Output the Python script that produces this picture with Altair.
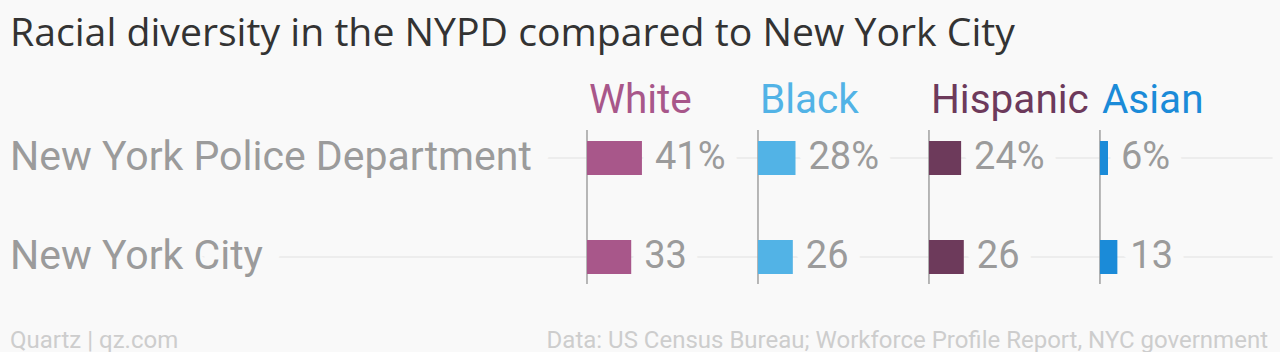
import altair as alt
import pandas as pd

# ---- data ----
title_text = "Racial diversity in the NYPD compared to New York City"
races = ["White", "Black", "Hispanic", "Asian"]
race_colors = ["#a8578a", "#52b3e6", "#6d3a5b", "#1b8bd8"]
groups = ["New York Police Department", "New York City"]
nypd_share = [41, 28, 24, 6]
nyc_share = [33, 26, 26, 13]
group_suffix = ["%", ""]
footer_left = ["Quartz | qz.com"]
footer_right = ["Data: US Census Bureau; Workforce Profile Report, NYC government"]

BG = "#f9f9f9"
GREY = "#9b9b9b"
FONT = "Roboto"
PANEL_STEP = 127.6          # distance between the four panels, in value units
X_DOMAIN = [-430.6, 511.2]  # plot spans label column + four panels
W, H = 1262, 198

records = []
for i, race in enumerate(races):
    for g, vals, suf in zip(groups, [nypd_share, nyc_share], group_suffix):
        records.append({"race": race, "idx": i, "group": g,
                        "value": vals[i], "label": f"{vals[i]}{suf}"})
df = pd.DataFrame(records)
race_df = pd.DataFrame({"race": races, "idx": list(range(len(races)))})
group_df = pd.DataFrame({"group": groups})

xscale = alt.Scale(domain=X_DOMAIN, nice=False, zero=False)
yaxis = alt.Axis(grid=True, bandPosition=0.5, labels=False, ticks=False,
                 domain=False, title=None, gridColor="#e8e8e8", gridWidth=1.5)
yscale = alt.Scale(domain=groups, paddingInner=0.657, paddingOuter=0.3285)
Y = alt.Y("group:N", scale=yscale, axis=yaxis)
color = alt.Color("race:N", scale=alt.Scale(domain=races, range=race_colors), legend=None)

calc = dict(start=f"datum.idx * {PANEL_STEP}", end=f"datum.idx * {PANEL_STEP} + datum.value")

base = alt.Chart(df).transform_calculate(**calc)

row_halo = alt.Chart(group_df).mark_text(
    align="left", baseline="middle", font=FONT, fontSize=41,
    fill=BG, stroke=BG, strokeWidth=38, strokeJoin="round"
).encode(x=alt.value(0), y=Y, text="group:N")

row_text = alt.Chart(group_df).mark_text(
    align="left", baseline="middle", font=FONT, fontSize=41, fill=GREY
).encode(x=alt.value(0), y=Y, text="group:N")

val_halo = base.mark_text(
    align="left", baseline="middle", dx=13, font=FONT, fontSize=38,
    fill=BG, stroke=BG, strokeWidth=26, strokeJoin="round"
).encode(x=alt.X("end:Q", scale=xscale, axis=None), y=Y, text="label:N")

rules = alt.Chart(race_df).transform_calculate(start=f"datum.idx * {PANEL_STEP}").mark_rule(
    color="#a0a0a0", strokeWidth=1.5, yOffset=-28, y2Offset=27
).encode(x=alt.X("start:Q", scale=xscale, axis=None),
         y=alt.Y(datum=groups[0], scale=yscale, axis=yaxis),
         y2=alt.datum(groups[1]))

bars = base.mark_bar().encode(
    x=alt.X("start:Q", scale=xscale, axis=None), x2="end:Q", y=Y, color=color)

val_text = base.mark_text(
    align="left", baseline="middle", dx=13, font=FONT, fontSize=38, fill=GREY
).encode(x=alt.X("end:Q", scale=xscale, axis=None), y=Y, text="label:N")

headers = alt.Chart(race_df).transform_calculate(start=f"datum.idx * {PANEL_STEP}").mark_text(
    align="left", baseline="alphabetic", dx=2, dy=-45, font=FONT, fontSize=40.5
).encode(x=alt.X("start:Q", scale=xscale, axis=None),
         y=alt.Y(datum=groups[0], scale=yscale, axis=yaxis),
         text="race:N", color=color)

foot_l = alt.Chart(pd.DataFrame({"t": footer_left})).mark_text(
    align="left", baseline="alphabetic", font=FONT, fontSize=24, fill="#cdcdcd"
).encode(x=alt.value(0), y=alt.value(H + 41), text="t:N")

foot_r = alt.Chart(pd.DataFrame({"t": footer_right})).mark_text(
    align="right", baseline="alphabetic", font=FONT, fontSize=24, fill="#cdcdcd"
).encode(x=alt.value(W - 4), y=alt.value(H + 41), text="t:N")

chart = alt.layer(
    row_halo, val_halo, rules, bars, row_text, val_text, headers, foot_l, foot_r
).properties(
    width=W, height=H,
    autosize=alt.AutoSizeParams(type="none"),
    padding={"left": 10, "top": 108.5, "right": 8, "bottom": 45.5},
    title=alt.TitleParams(title_text, anchor="start", font="Open Sans", fontSize=39.2,
                          fontWeight="normal", color="#333333", offset=5, dy=9,
                          baseline="alphabetic"),
    background=BG,
).configure_view(stroke="transparent")

chart.save("out.html", embed_options={"renderer": "svg", "actions": False})
